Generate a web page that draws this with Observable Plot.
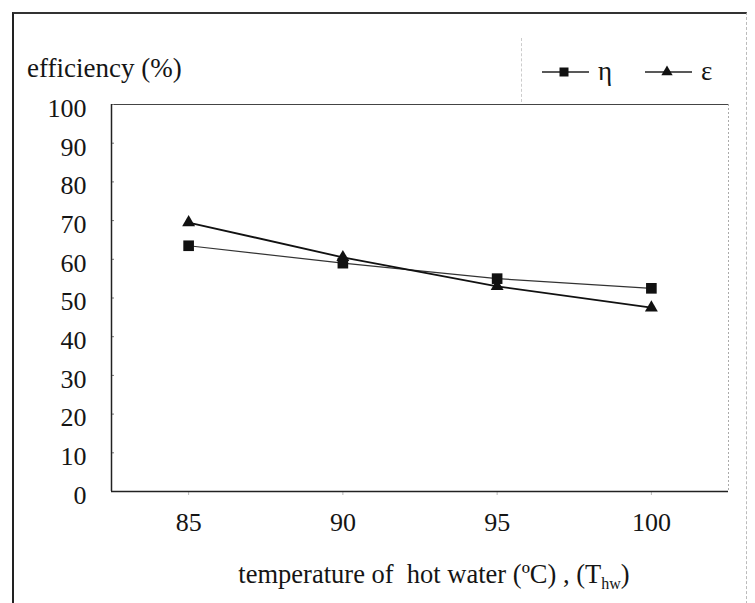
<!DOCTYPE html>
<html>
<head>
<meta charset="utf-8">
<script src="https://cdn.jsdelivr.net/npm/d3@7"></script>
<script src="https://cdn.jsdelivr.net/npm/@observablehq/plot@0.6"></script>
<style>
  html, body { margin: 0; padding: 0; background: #fff; }
  #wrap { position: relative; width: 755px; height: 603px; overflow: hidden;
          font-family: "Liberation Serif", "Times New Roman", "DejaVu Serif", serif; color: #151515; }
  #border { position: absolute; left: 12px; top: 12px; width: 732px; height: 620px;
            border-left: 2px solid #222; border-top: 2px solid #333; border-right: 1px dashed #bbb; }
  #ytitle { position: absolute; left: 27px; top: 53px; font-size: 27px; white-space: nowrap; }
  #xtitle { position: absolute; left: 0; width: 868px; text-align: center; top: 559px;
            font-size: 26.5px; white-space: pre; }
  #xtitle sub { font-size: 16px; vertical-align: -6px; line-height: 0; }
  #legendsep { position: absolute; left: 521px; top: 38px; height: 64px; border-left: 1px dashed #ccc; }
  #legend { position: absolute; left: 530px; top: 50px; overflow: visible; }
  #legend text { font-family: "Liberation Serif", "Times New Roman", "DejaVu Serif", serif; font-size: 27px; fill: #151515; }
  svg.plot { position: absolute; left: 0; top: 0; }
  svg.plot text { font-family: "Liberation Serif", "Times New Roman", "DejaVu Serif", serif; }
</style>
</head>
<body>
<div id="wrap">
  <div id="border"></div>
  <div id="legendsep"></div>
  <div id="ytitle">efficiency (%)</div>
  <svg id="legend" width="200" height="45"></svg>
  <div id="xtitle">temperature of  hot water (ºC) , (T<sub>hw</sub>)</div>
</div>
<script>
// Hot-water temperature (°C) and the two efficiencies measured at each
const temps = [85, 90, 95, 100];
const eta = [63.5, 59, 55, 52.5];
const eps = [69.5, 60.5, 53, 47.5];
const seriesNames = ["η", "ε"];
const yTicks = [0, 10, 20, 30, 40, 50, 60, 70, 80, 90, 100];

const etaRows = temps.map((t, i) => ({t, v: eta[i]}));
const epsRows = temps.map((t, i) => ({t, v: eps[i]}));

const ink = "#151515";
const serif = "'Liberation Serif', 'Times New Roman', 'DejaVu Serif', serif";

const chart = Plot.plot({
  width: 755,
  height: 603,
  marginLeft: 111,
  marginRight: 27,
  marginTop: 104,
  marginBottom: 112,
  style: {fontFamily: serif, fontSize: "26px", color: ink, background: "transparent"},
  x: {domain: [82.5, 102.5], ticks: temps, label: null},
  y: {domain: [0, 100], ticks: yTicks, label: null},
  marks: [
    Plot.ruleY([100], {stroke: "#444", strokeWidth: 1.2}),
    Plot.ruleX([102.5], {stroke: "#aaa", strokeWidth: 1, strokeDasharray: "2,2"}),
    Plot.axisY({ticks: yTicks, tickSize: 0, tickPadding: 25, fontSize: 26, dy: 4, fill: ink}),
    Plot.axisY({ticks: yTicks, tickSize: -3, tickFormat: () => "", stroke: "#777"}),
    Plot.axisX({ticks: temps, tickSize: 4, tickPadding: 17, fontSize: 26, fill: ink, stroke: "#bbb"}),
    Plot.ruleX([82.5], {stroke: "#222", strokeWidth: 1.5}),
    Plot.ruleY([0], {stroke: "#222", strokeWidth: 1.5}),
    Plot.line(etaRows, {x: "t", y: "v", stroke: "#333", strokeWidth: 1.2}),
    Plot.line(epsRows, {x: "t", y: "v", stroke: "#111", strokeWidth: 1.8}),
    Plot.dot(etaRows, {x: "t", y: "v", symbol: "square", r: 6, fill: "#111", stroke: "none"}),
    Plot.dot(epsRows, {x: "t", y: "v", symbol: "triangle", r: 4.8, fill: "#111", stroke: "none"})
  ]
});
document.getElementById("wrap").appendChild(chart);

// legend: a short line with the series marker, then the series symbol
const legend = d3.select("#legend");
const legendSymbols = [d3.symbolSquare, d3.symbolTriangle];
const legendSizes = [81, 55];
seriesNames.forEach((name, i) => {
  const x0 = 12 + i * 103, cy = 22;
  legend.append("line").attr("x1", x0).attr("x2", x0 + 47).attr("y1", cy).attr("y2", cy)
    .attr("stroke", "#222").attr("stroke-width", 1.5);
  legend.append("path").attr("transform", `translate(${x0 + 22},${cy})`)
    .attr("d", d3.symbol(legendSymbols[i], legendSizes[i])()).attr("fill", "#111");
  legend.append("text").attr("x", x0 + 56).attr("y", cy + 8).text(name);
});
</script>
</body>
</html>
